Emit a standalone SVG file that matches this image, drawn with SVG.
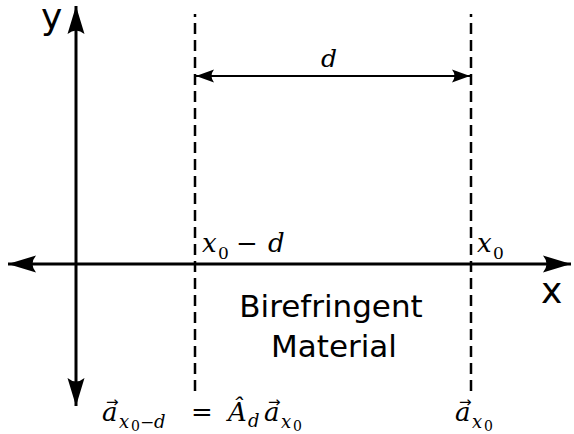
<svg xmlns="http://www.w3.org/2000/svg" width="574" height="434" viewBox="0 0 574 434">
<style>
.axis{stroke:#000;stroke-width:3;fill:none}
.dash{stroke:#000;stroke-width:2.5;fill:none;stroke-dasharray:11,6}
.dim{stroke:#000;stroke-width:2;fill:none}
.lbl{font-family:"DejaVu Sans",sans-serif;fill:#000}
.m{font-family:"DejaVu Serif",serif;font-style:italic;fill:#000}
.r{font-family:"DejaVu Serif",serif;font-style:normal;fill:#000}
.v{font-family:"DejaVu Sans",sans-serif;font-size:15px;fill:#000}
</style>
<defs>
<marker id="ah" markerUnits="userSpaceOnUse" viewBox="-30 -10 32 20" refX="0" refY="0" markerWidth="32" markerHeight="20" orient="auto">
<path d="M0,0 L-28,-8.5 Q-21,0 -28,8.5 Z" fill="#000"/>
</marker>
<marker id="dh" markerUnits="userSpaceOnUse" viewBox="-20 -8 22 16" refX="0" refY="0" markerWidth="22" markerHeight="16" orient="auto">
<path d="M0,0 L-18,-6.5 Q-13,0 -18,6.5 Z" fill="#000"/>
</marker>
</defs>
<rect width="574" height="434" fill="#fff"/>
<g id="connectors">
<line class="axis" x1="76" y1="130" x2="76" y2="6" marker-end="url(#ah)"/>
<line class="axis" x1="76" y1="130" x2="76" y2="406" marker-end="url(#ah)"/>
<line class="axis" x1="300" y1="264" x2="8" y2="264" marker-end="url(#ah)"/>
<line class="axis" x1="300" y1="264" x2="571" y2="264" marker-end="url(#ah)"/>
<line class="dash" x1="195" y1="14" x2="195" y2="393" stroke-dashoffset="8"/>
<line class="dash" x1="471" y1="14" x2="471" y2="393" stroke-dashoffset="8"/>
<line class="dim" x1="330" y1="76" x2="196" y2="76" marker-end="url(#dh)"/>
<line class="dim" x1="330" y1="76" x2="470" y2="76" marker-end="url(#dh)"/>
</g>
<g id="axis-labels">
<text class="lbl" x="41" y="29" font-size="36">y</text>
<text class="lbl" x="541" y="303" font-size="36">x</text>
</g>
<g id="material">
<text class="lbl" x="331" y="317" font-size="31" text-anchor="middle">Birefringent</text>
<text class="lbl" x="334" y="357" font-size="31" text-anchor="middle">Material</text>
</g>
<g id="d-label">
<text class="m" x="321" y="67" font-size="25">d</text>
</g>
<g id="x0-d-label">
<text class="m" x="202" y="252" font-size="26">x</text>
<text class="r" x="218" y="259" font-size="17">0</text>
<text class="r" x="236" y="252" font-size="26">−</text>
<text class="m" x="268" y="252" font-size="26">d</text>
</g>
<g id="x0-label">
<text class="m" x="477" y="252" font-size="26">x</text>
<text class="r" x="493" y="259" font-size="17">0</text>
</g>
<g id="bottom-eq">
<text class="m" x="102" y="421" font-size="26">a</text>
<text class="v" x="106" y="407">→</text>
<text class="m" x="119" y="428" font-size="18">x</text>
<text class="r" x="131" y="431" font-size="14">0</text>
<text class="r" x="140" y="428" font-size="17">−</text>
<text class="m" x="154" y="428" font-size="18">d</text>
<text class="r" x="191" y="421" font-size="26">=</text>
<text class="m" x="228" y="421" font-size="26">Â</text>
<text class="m" x="248" y="427" font-size="18">d</text>
<text class="m" x="264" y="421" font-size="26">a</text>
<text class="v" x="268" y="407">→</text>
<text class="m" x="281" y="428" font-size="18">x</text>
<text class="r" x="293" y="431" font-size="14">0</text>
</g>
<g id="ax0-label">
<text class="m" x="455" y="421" font-size="26">a</text>
<text class="v" x="459" y="407">→</text>
<text class="m" x="472" y="428" font-size="18">x</text>
<text class="r" x="484" y="431" font-size="14">0</text>
</g>
</svg>
